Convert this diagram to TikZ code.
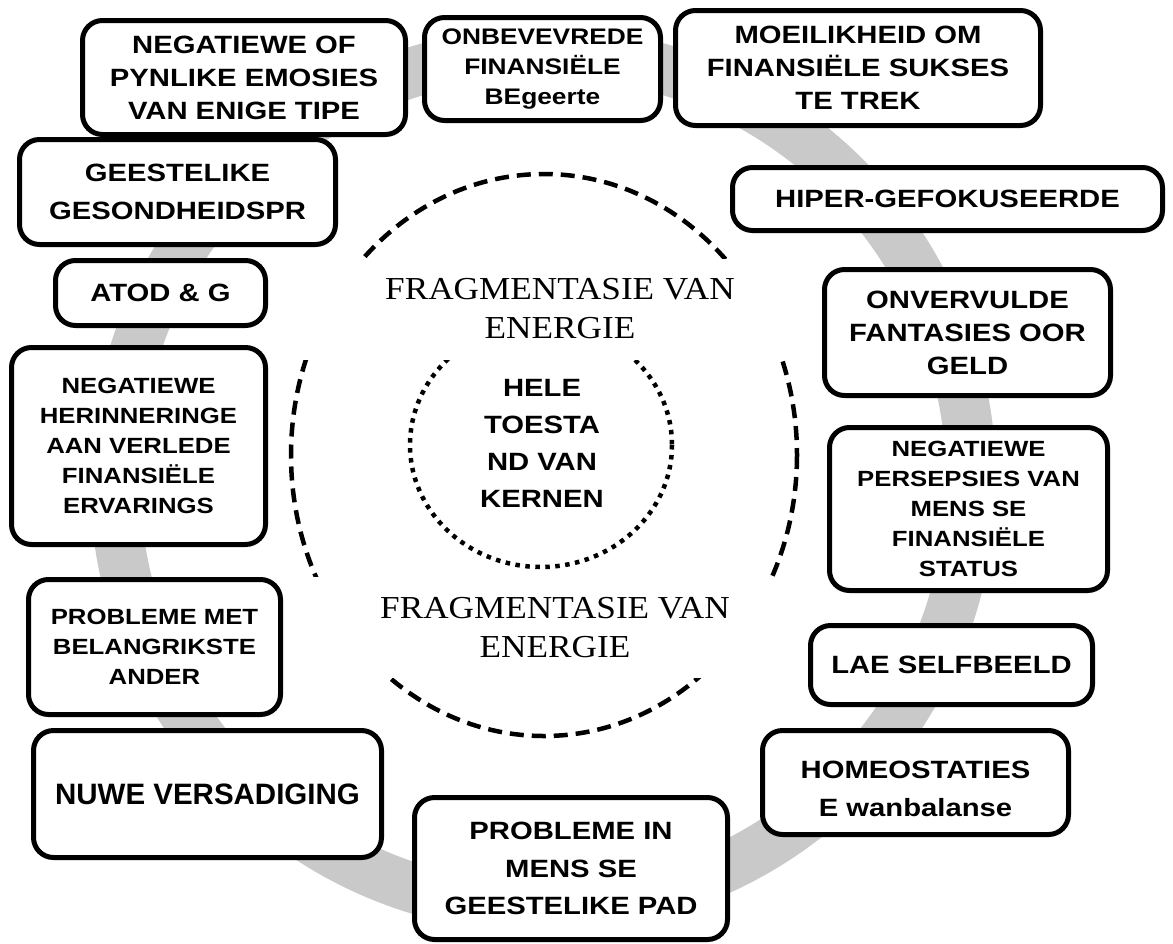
\documentclass[tikz,border=0pt]{standalone}
\usepackage{fontspec}
\newfontfamily\stagefont{Liberation Sans}[FakeStretch=1.17]
\newfontfamily\plainstagefont{Liberation Sans}
\newfontfamily\fragfont{Liberation Serif}[FakeStretch=1.1]

\tikzset{
  stagebox/.style={draw, line width=5pt, rounded corners=20pt, fill=white,
    align=center, inner sep=0pt,
    font=\stagefont\bfseries\fontsize{25}{33}\selectfont},
  stagesmall/.style={stagebox, font=\stagefont\bfseries\fontsize{22}{30}\selectfont},
  stagewide/.style={stagebox, font=\stagefont\bfseries\fontsize{25}{37.5}\selectfont},
  fragband/.style={fill=white, minimum width=520pt, minimum height=101pt,
    align=center, inner sep=0pt, font=\fragfont\fontsize{32}{39}\selectfont},
}

\begin{document}
\begin{tikzpicture}[x=1pt, y=-1pt]

\useasboundingbox (0,0) rectangle (1173,943);

\coordinate(ringcentre) at (543,480);
\coordinate(fragcentre) at (544,455);
\coordinate(kerncentre) at (541,445);

% grey ring behind the boxes
\draw[line width=50pt, black!21] (ringcentre) circle[radius=428];

% dashed and dotted rings
\draw[line width=4.5pt, dash pattern=on 14pt off 8pt]
  (fragcentre) ellipse[x radius=253, y radius=281];
\draw[line width=4.5pt, dash pattern=on 4.5pt off 5.5pt]
  (kerncentre) ellipse[x radius=131, y radius=122];

\node[fragband] (fragtop) at (560,309) {FRAGMENTASIE VAN\\ENERGIE};
\node[fragband] (fragbottom) at (555,627.5) {FRAGMENTASIE VAN\\ENERGIE};

\node[align=center, font=\stagefont\bfseries\fontsize{25}{37}\selectfont]
  (kern) at (542,443.5) {HELE\\TOESTA\\ND VAN\\KERNEN};

% boxes round the ring
\node[stagebox, minimum width=323pt, minimum height=114pt]
  (negemo) at (244,77.5) {NEGATIEWE OF\\PYNLIKE EMOSIES\\VAN ENIGE TIPE};
\node[stagesmall, font=\stagefont\bfseries\fontsize{22.5}{30}\selectfont,
  minimum width=236pt, minimum height=103pt]
  (onbev) at (542.5,69) {ONBEVEVREDE\\FINANSIËLE\\BEgeerte};
\node[stagebox, minimum width=365pt, minimum height=115pt]
  (moeilik) at (858,68) {MOEILIKHEID OM\\FINANSIËLE SUKSES\\TE TREK};
\node[stagebox, minimum width=430pt, minimum height=63pt]
  (hiper) at (947.5,199) {HIPER-GEFOKUSEERDE};
\node[stagebox, minimum width=286pt, minimum height=126pt]
  (onvervul) at (967.5,332.5) {ONVERVULDE\\FANTASIES OOR\\GELD};
\node[stagesmall, minimum width=278pt, minimum height=163pt]
  (negpersep) at (968.5,509) {NEGATIEWE\\PERSEPSIES VAN\\MENS SE\\FINANSIËLE\\STATUS};
\node[stagebox, minimum width=282pt, minimum height=79pt]
  (lae) at (951.5,665) {LAE SELFBEELD};
\node[stagewide, minimum width=306pt, minimum height=104pt]
  (homeo) at (915.5,782.5) {\rule{0pt}{30pt}HOMEOSTATIES\\E wanbalanse};
\node[stagewide, minimum width=313pt, minimum height=142pt]
  (probin) at (571,868.5) {PROBLEME IN\\MENS SE\\GEESTELIKE PAD};
\node[stagebox, font=\plainstagefont\bfseries\fontsize{29.5}{36}\selectfont,
  minimum width=348pt, minimum height=127pt]
  (nuwe) at (207.5,794) {NUWE VERSADIGING};
\node[stagesmall, minimum width=252pt, minimum height=135pt]
  (probmet) at (154.5,647) {PROBLEME MET\\BELANGRIKSTE\\ANDER};
\node[stagesmall, minimum width=254pt, minimum height=197pt]
  (negherin) at (138.5,446) {NEGATIEWE\\HERINNERINGE\\AAN VERLEDE\\FINANSIËLE\\ERVARINGS};
\node[stagebox, minimum width=210pt, minimum height=65pt]
  (atod) at (160.5,293) {ATOD \& G};
\node[stagewide, minimum width=316pt, minimum height=105pt]
  (geestelik) at (177.5,192) {GEESTELIKE\\GESONDHEIDSPR};

\end{tikzpicture}
\end{document}
